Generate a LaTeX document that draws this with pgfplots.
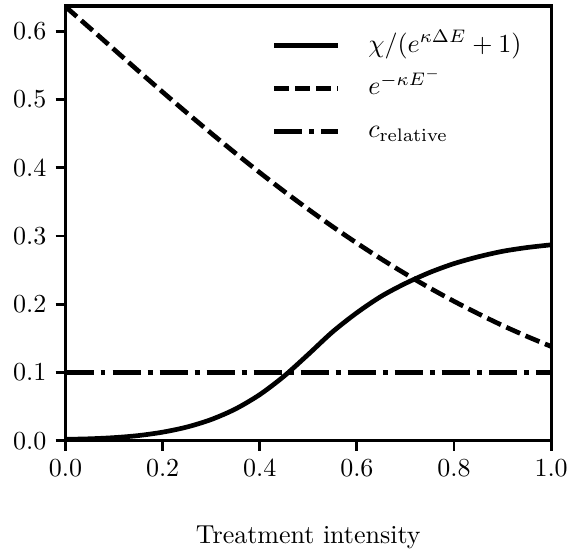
\documentclass[border=0pt]{standalone}
\usepackage{pgfplots}
\pgfplotsset{compat=1.18}
\begin{document}
\begin{tikzpicture}
\begin{axis}[
  scale only axis,
  width=186.9pt, height=167.3pt,
  xmin=0, xmax=1, ymin=0, ymax=0.637,
  xtick={0,0.2,0.4,0.6,0.8,1.0},
  ytick={0,0.1,0.2,0.3,0.4,0.5,0.6},
  xticklabel style={/pgf/number format/.cd,fixed,fixed zerofill,precision=1},
  yticklabel style={/pgf/number format/.cd,fixed,fixed zerofill,precision=1},
  xtick pos=left, ytick pos=left,
  tick align=outside,
  major tick length=3.8pt,
  tick style={line width=1.1pt, black},
  axis line style={line width=1.2pt},
  xlabel={Treatment intensity},
  xlabel style={at={(axis description cs:0.5,0)}, yshift=-37.3pt, anchor=center},
  legend cell align=left,
  legend style={draw=none, fill=none, at={(0.424,0.955)}, anchor=north west, inner sep=0pt,
    nodes={text height=8pt, text depth=3pt, inner sep=2pt}, row sep=1.5pt},
  legend image code/.code={\draw[#1] (0pt,0pt) -- (24.5pt,0pt);},
]
\addplot[black, line width=1.8pt, smooth, tension=0.5] coordinates {
(0,0.002) (0.05,0.0028) (0.1,0.0045) (0.15,0.0075) (0.2,0.0125) (0.25,0.020)
(0.3,0.031) (0.35,0.0465) (0.4,0.0675) (0.45,0.0945) (0.5,0.1265) (0.55,0.1595)
(0.6,0.1875) (0.65,0.2115) (0.7,0.2305) (0.75,0.2465) (0.8,0.2595) (0.85,0.2695)
(0.9,0.2775) (0.95,0.283) (1.0,0.287)};
\addlegendentry{\hspace{8.8pt}$\chi/(e^{\kappa\Delta E}+1)$}
\addplot[black, line width=1.8pt, smooth, tension=0.5, dash pattern=on 5.8pt off 2.3pt] coordinates {
(0,0.636) (0.05,0.6048) (0.1,0.5733) (0.15,0.5419) (0.2,0.5109) (0.25,0.4804)
(0.3,0.4505) (0.35,0.4213) (0.4,0.3929) (0.45,0.3655) (0.5,0.3391) (0.55,0.3137)
(0.6,0.2895) (0.65,0.2664) (0.7,0.2445) (0.75,0.2238) (0.8,0.2043) (0.85,0.1860)
(0.9,0.1688) (0.95,0.1529) (1.0,0.1381)};
\addlegendentry{\hspace{8.8pt}$e^{-\kappa E^{-}}$}
\addplot[black, line width=1.8pt, dash pattern=on 10.8pt off 2.7pt on 1.9pt off 2.7pt] coordinates {
(0,0.1) (1,0.1)};
\addlegendentry{\hspace{8.8pt}$c_{\mathrm{relative}}$}
\end{axis}
\path ([xshift=-25.2pt,yshift=-45pt]current axis.south west) rectangle ([xshift=11.5pt,yshift=2.3pt]current axis.north east);
\end{tikzpicture}
\end{document}
